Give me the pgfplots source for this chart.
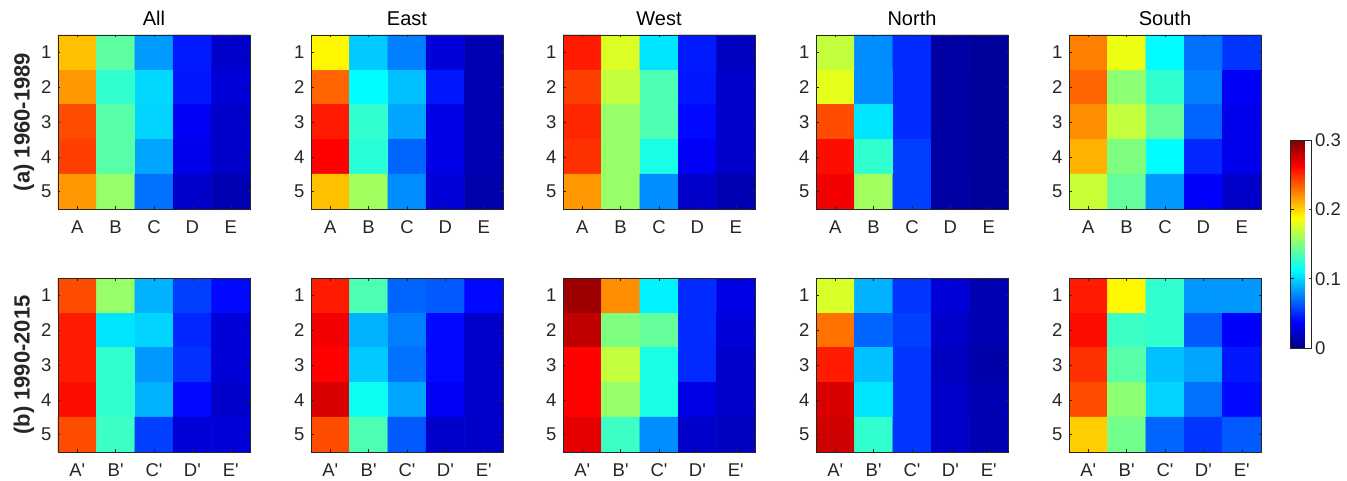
\documentclass[border=0pt]{standalone}
\usepackage{fontspec}
\setmainfont{Liberation Sans}
\usepackage{pgfplots}
\pgfplotsset{compat=1.18}

\definecolor{axgray}{RGB}{38,38,38}

\pgfplotsset{
  heat/.style={
    scale only axis, width=192pt, height=174pt,
    anchor=south west,
    xmin=-0.5, xmax=4.5, ymin=0.5, ymax=5.5, y dir=reverse,
    enlargelimits=false, axis on top,
    colormap/jet, point meta min=0, point meta max=0.3,
    xtick={0,...,4}, ytick={1,...,5},
    yticklabels={1,2,3,4,5},
    tick align=inside, major tick length=2.5pt,
    tick style={axgray, line width=0.4pt},
    axis line style={axgray, line width=0.6pt},
    ticklabel style={font=\fontsize{18.5}{21}\selectfont, text=axgray},
    xticklabel style={yshift=-8pt},
    yticklabel style={xshift=-3pt},
    title style={font=\fontsize{20}{24}\selectfont},
    ylabel style={font=\fontsize{22}{26}\selectfont\bfseries, text=axgray},
  },
  toprow/.style={heat, xticklabels={A,B,C,D,E}},
  botrow/.style={heat, xticklabels={A\textquotesingle,B\textquotesingle,C\textquotesingle,D\textquotesingle,E\textquotesingle}},
  cell/.style={matrix plot*, mesh/cols=5, point meta=explicit},
}

\begin{document}
\begin{tikzpicture}
\path[use as bounding box] (0,0) rectangle (1347pt,481pt);

% ---------------- (a) 1960-1989 ----------------
\begin{axis}[toprow, at={(58pt,272pt)}, title={All}, ylabel={(a) 1960-1989}]
\addplot[cell] coordinates {
(0,1)[0.206] (1,1)[0.140] (2,1)[0.083] (3,1)[0.045] (4,1)[0.022]
(0,2)[0.218] (1,2)[0.127] (2,2)[0.101] (3,2)[0.044] (4,2)[0.026]
(0,3)[0.240] (1,3)[0.138] (2,3)[0.100] (3,3)[0.035] (4,3)[0.022]
(0,4)[0.244] (1,4)[0.138] (2,4)[0.086] (3,4)[0.032] (4,4)[0.022]
(0,5)[0.218] (1,5)[0.157] (2,5)[0.071] (3,5)[0.022] (4,5)[0.015]
};
\end{axis}

\begin{axis}[toprow, at={(311pt,272pt)}, title={East}]
\addplot[cell] coordinates {
(0,1)[0.190] (1,1)[0.097] (2,1)[0.075] (3,1)[0.026] (4,1)[0.015]
(0,2)[0.233] (1,2)[0.112] (2,2)[0.094] (3,2)[0.044] (4,2)[0.015]
(0,3)[0.255] (1,3)[0.127] (2,3)[0.086] (3,3)[0.030] (4,3)[0.015]
(0,4)[0.262] (1,4)[0.124] (2,4)[0.067] (3,4)[0.030] (4,4)[0.015]
(0,5)[0.206] (1,5)[0.160] (2,5)[0.079] (3,5)[0.026] (4,5)[0.013]
};
\end{axis}

\begin{axis}[toprow, at={(563pt,272pt)}, title={West}]
\addplot[cell] coordinates {
(0,1)[0.255] (1,1)[0.177] (2,1)[0.105] (3,1)[0.045] (4,1)[0.019]
(0,2)[0.244] (1,2)[0.170] (2,2)[0.135] (3,2)[0.044] (4,2)[0.022]
(0,3)[0.251] (1,3)[0.157] (2,3)[0.135] (3,3)[0.040] (4,3)[0.022]
(0,4)[0.248] (1,4)[0.157] (2,4)[0.120] (3,4)[0.035] (4,4)[0.022]
(0,5)[0.218] (1,5)[0.157] (2,5)[0.079] (3,5)[0.022] (4,5)[0.015]
};
\end{axis}

\begin{axis}[toprow, at={(816pt,272pt)}, title={North}]
\addplot[cell] coordinates {
(0,1)[0.170] (1,1)[0.079] (2,1)[0.050] (3,1)[0.011] (4,1)[0.008]
(0,2)[0.180] (1,2)[0.079] (2,2)[0.050] (3,2)[0.011] (4,2)[0.008]
(0,3)[0.240] (1,3)[0.105] (2,3)[0.050] (3,3)[0.011] (4,3)[0.008]
(0,4)[0.259] (1,4)[0.127] (2,4)[0.056] (3,4)[0.011] (4,4)[0.008]
(0,5)[0.266] (1,5)[0.160] (2,5)[0.056] (3,5)[0.011] (4,5)[0.008]
};
\end{axis}

\begin{axis}[toprow, at={(1069pt,272pt)}, title={South},
  colorbar,
  colorbar style={
    at={(parent axis.north east)}, anchor=north west,
    xshift=21pt, yshift=-105pt,
    scale only axis, width=21pt, height=208pt,
    ytick={0,0.1,0.2,0.3}, yticklabels={0,0.1,0.2,0.3},
    tick align=inside, major tick length=3pt,
    tick style={axgray, line width=0.4pt},
    axis line style={axgray, line width=0.6pt},
    ticklabel style={font=\fontsize{18.5}{21}\selectfont, text=axgray},
  }]
\addplot[cell] coordinates {
(0,1)[0.225] (1,1)[0.182] (2,1)[0.112] (3,1)[0.071] (4,1)[0.053]
(0,2)[0.233] (1,2)[0.154] (2,2)[0.127] (3,2)[0.075] (4,2)[0.035]
(0,3)[0.221] (1,3)[0.170] (2,3)[0.142] (3,3)[0.067] (4,3)[0.032]
(0,4)[0.210] (1,4)[0.150] (2,4)[0.112] (3,4)[0.049] (4,4)[0.032]
(0,5)[0.172] (1,5)[0.142] (2,5)[0.082] (3,5)[0.037] (4,5)[0.022]
};
\end{axis}

% ---------------- (b) 1990-2015 ----------------
\begin{axis}[botrow, at={(58pt,29pt)}, ylabel={(b) 1990-2015}]
\addplot[cell] coordinates {
(0,1)[0.240] (1,1)[0.157] (2,1)[0.090] (3,1)[0.056] (4,1)[0.040]
(0,2)[0.255] (1,2)[0.105] (2,2)[0.100] (3,2)[0.049] (4,2)[0.026]
(0,3)[0.255] (1,3)[0.127] (2,3)[0.082] (3,3)[0.052] (4,3)[0.026]
(0,4)[0.259] (1,4)[0.127] (2,4)[0.090] (3,4)[0.040] (4,4)[0.022]
(0,5)[0.240] (1,5)[0.130] (2,5)[0.056] (3,5)[0.026] (4,5)[0.026]
};
\end{axis}

\begin{axis}[botrow, at={(311pt,29pt)}]
\addplot[cell] coordinates {
(0,1)[0.255] (1,1)[0.135] (2,1)[0.067] (3,1)[0.064] (4,1)[0.040]
(0,2)[0.266] (1,2)[0.090] (2,2)[0.075] (3,2)[0.040] (4,2)[0.022]
(0,3)[0.262] (1,3)[0.097] (2,3)[0.071] (3,3)[0.040] (4,3)[0.022]
(0,4)[0.273] (1,4)[0.116] (2,4)[0.086] (3,4)[0.035] (4,4)[0.022]
(0,5)[0.240] (1,5)[0.135] (2,5)[0.064] (3,5)[0.022] (4,5)[0.022]
};
\end{axis}

\begin{axis}[botrow, at={(563pt,29pt)}]
\addplot[cell] coordinates {
(0,1)[0.291] (1,1)[0.221] (2,1)[0.109] (3,1)[0.050] (4,1)[0.030]
(0,2)[0.281] (1,2)[0.150] (2,2)[0.142] (3,2)[0.050] (4,2)[0.026]
(0,3)[0.262] (1,3)[0.170] (2,3)[0.120] (3,3)[0.050] (4,3)[0.022]
(0,4)[0.262] (1,4)[0.157] (2,4)[0.120] (3,4)[0.030] (4,4)[0.022]
(0,5)[0.270] (1,5)[0.130] (2,5)[0.079] (3,5)[0.022] (4,5)[0.019]
};
\end{axis}

\begin{axis}[botrow, at={(816pt,29pt)}]
\addplot[cell] coordinates {
(0,1)[0.176] (1,1)[0.090] (2,1)[0.053] (3,1)[0.026] (4,1)[0.015]
(0,2)[0.229] (1,2)[0.067] (2,2)[0.056] (3,2)[0.022] (4,2)[0.015]
(0,3)[0.255] (1,3)[0.094] (2,3)[0.053] (3,3)[0.019] (4,3)[0.012]
(0,4)[0.273] (1,4)[0.105] (2,4)[0.053] (3,4)[0.022] (4,4)[0.015]
(0,5)[0.277] (1,5)[0.127] (2,5)[0.053] (3,5)[0.022] (4,5)[0.015]
};
\end{axis}

\begin{axis}[botrow, at={(1069pt,29pt)}]
\addplot[cell] coordinates {
(0,1)[0.255] (1,1)[0.190] (2,1)[0.127] (3,1)[0.082] (4,1)[0.082]
(0,2)[0.259] (1,2)[0.130] (2,2)[0.127] (3,2)[0.064] (4,2)[0.037]
(0,3)[0.248] (1,3)[0.138] (2,3)[0.094] (3,3)[0.086] (4,3)[0.044]
(0,4)[0.240] (1,4)[0.154] (2,4)[0.100] (3,4)[0.071] (4,4)[0.040]
(0,5)[0.202] (1,5)[0.146] (2,5)[0.067] (3,5)[0.053] (4,5)[0.064]
};
\end{axis}
\end{tikzpicture}
\end{document}
